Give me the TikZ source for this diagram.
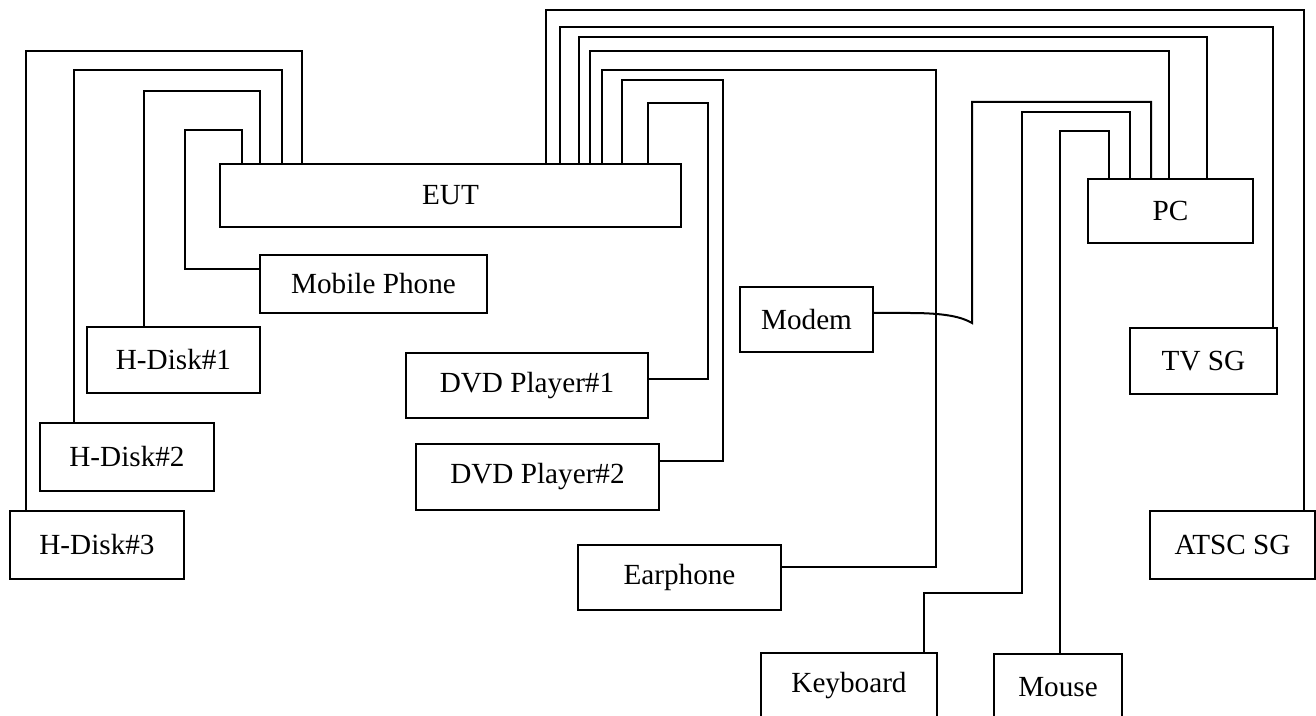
\documentclass[tikz,border=0pt]{standalone}
\usepackage{fontspec}
\setmainfont{Liberation Serif}
\usepackage{tikz}

\begin{document}
\begin{tikzpicture}[x=0.5pt,y=-0.5pt,line width=1pt,
  box/.style={rectangle, draw, inner sep=0pt, font=\fontsize{14.6}{17}\selectfont}]
\useasboundingbox (0,0) rectangle (1316,716);
\node[box, minimum width=230.5pt, minimum height=31.5pt] (eut) at (450.5,195.5) {EUT};
\node[box, minimum width=113.5pt, minimum height=29pt] (mobile) at (373.5,284) {Mobile Phone};
\node[box, minimum width=86.5pt, minimum height=33pt] (hdiska) at (173.5,360) {H-Disk\#1};
\node[box, minimum width=87pt, minimum height=34pt] (hdiskb) at (127,457) {H-Disk\#2};
\node[box, minimum width=87pt, minimum height=34pt] (hdiskc) at (97,545) {H-Disk\#3};
\node[box, minimum width=121pt, minimum height=32.5pt] (dvda) at (527,385.5) {DVD Player\#1};
\node[box, minimum width=121.5pt, minimum height=33pt] (dvdb) at (537.5,477) {DVD Player\#2};
\node[box, minimum width=101.5pt, minimum height=32.5pt] (earph) at (679.5,577.5) {Earphone};
\node[box, minimum width=66.5pt, minimum height=32.5pt] (modem) at (806.5,319.5) {Modem};
\node[box, minimum width=82.5pt, minimum height=32pt] (pc) at (1170.5,211) {PC};
\node[box, minimum width=73.5pt, minimum height=33pt] (tvsg) at (1203.5,361) {TV SG};
\node[box, minimum width=82.5pt, minimum height=34pt] (atsc) at (1232.5,545) {ATSC SG};
\node[box, minimum width=88pt, minimum height=33pt] (kbd) at (849,686) {Keyboard};
\node[box, minimum width=64pt, minimum height=33pt] (mouse) at (1058,687) {Mouse};

\draw (26,0 |- hdiskc.north) |- (302,51) -- (302,0 |- eut.north);
\draw (74,0 |- hdiskb.north) |- (282,70) -- (282,0 |- eut.north);
\draw (144,0 |- hdiska.north) |- (260,91) -- (260,0 |- eut.north);
\draw (mobile.west |- 0,269) -| (185,130) -| (242,0 |- eut.north);

\draw (546,0 |- eut.north) |- (1304,10) -- (1304,0 |- atsc.north);
\draw (560,0 |- eut.north) |- (1273,27) -- (1273,0 |- tvsg.north);
\draw (579,0 |- eut.north) |- (1207,37) -- (1207,0 |- pc.north);
\draw (590,0 |- eut.north) |- (1169,51) -- (1169,0 |- pc.north);
\draw (602,0 |- eut.north) |- (936,70) |- (earph.east |- 0,567);
\draw (622,0 |- eut.north) |- (723,80) |- (dvdb.east |- 0,461);
\draw (648,0 |- eut.north) |- (708,103) |- (dvda.east |- 0,379);

\draw (modem.east |- 0,313) -- (910,313) .. controls (945,313) and (962,317) .. (972,323)
  -- (972,102) -| (1151,0 |- pc.north);
\draw (924,0 |- kbd.north) |- (1022,593) |- (1130,112) -- (1130,0 |- pc.north);
\draw (1060,0 |- mouse.north) |- (1109,131) -- (1109,0 |- pc.north);
\end{tikzpicture}
\end{document}
